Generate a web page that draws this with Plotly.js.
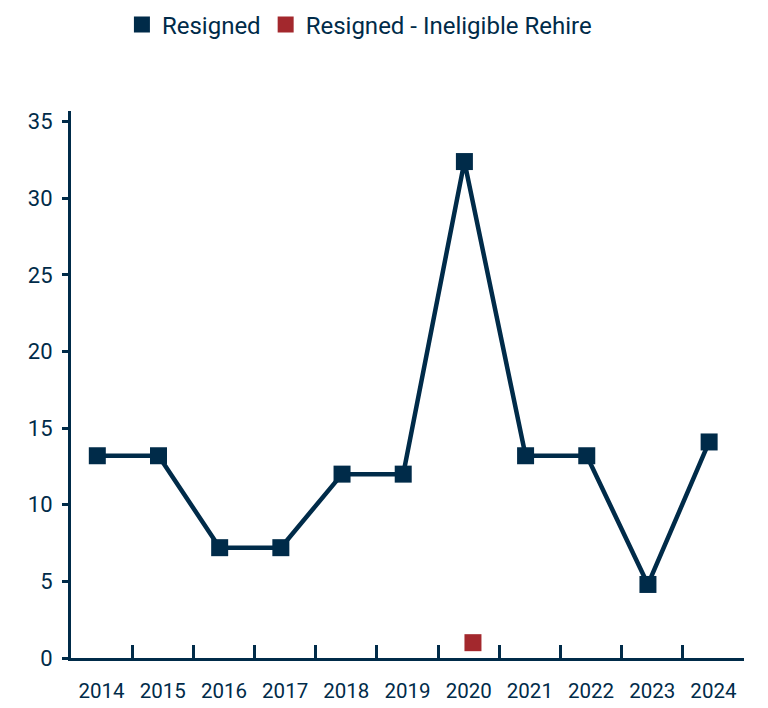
<!DOCTYPE html>
<html>
<head>
<meta charset="utf-8">
<script src="https://cdn.plot.ly/plotly-3.0.1.min.js"></script>
<style>
  html, body { margin: 0; padding: 0; background: #ffffff; }
  #chart { width: 768px; height: 708px; }
</style>
</head>
<body>
<div id="chart"></div>
<script>
// Categories (years)
var years = ["2014", "2015", "2016", "2017", "2018", "2019", "2020", "2021", "2022", "2023", "2024"];
// Series values
var resigned = [13.2, 13.2, 7.2, 7.2, 12.0, 12.0, 32.4, 13.2, 13.2, 4.8, 14.1];
var ineligibleYears = ["2020"];
var ineligible = [1.0];
// Tick labels
var yTicks = [0, 5, 10, 15, 20, 25, 30, 35];

var navy = "#002b49";
var red = "#a3282d";
var fontFamily = "Roboto, 'Noto Sans', sans-serif";

var traces = [
  {
    type: "scatter", mode: "lines", x: years, y: resigned,
    name: "Resigned", showlegend: false, offsetgroup: "a", hoverinfo: "skip",
    line: { color: navy, width: 4.5 }
  },
  {
    type: "scatter", mode: "markers", x: years, y: resigned,
    name: "Resigned", offsetgroup: "a",
    marker: { color: navy, symbol: "square", size: 17 }
  },
  {
    type: "scatter", mode: "markers", x: ineligibleYears, y: ineligible,
    name: "Resigned - Ineligible Rehire", offsetgroup: "b",
    marker: { color: red, symbol: "square", size: 17 }
  }
];

var layout = {
  width: 768, height: 708,
  margin: { l: 71, r: 24, t: 111, b: 50, pad: 0 },
  paper_bgcolor: "#ffffff", plot_bgcolor: "#ffffff",
  font: { family: fontFamily, color: navy, size: 20 },
  scattermode: "group",
  scattergap: 0.72,
  showlegend: true,
  legend: {
    orientation: "h", xref: "container", yref: "container",
    x: 0.468, xanchor: "center", y: 1 - 25 / 708, yanchor: "middle",
    font: { family: fontFamily, size: 24, color: navy },
    itemsizing: "trace", itemwidth: 30, tracegroupgap: 0
  },
  xaxis: {
    type: "category", categoryorder: "array", categoryarray: years,
    showgrid: false, zeroline: false,
    showline: true, linecolor: navy, linewidth: 3,
    ticks: "inside", tickson: "boundaries", ticklen: 13, tickwidth: 3, tickcolor: navy,
    ticklabelstandoff: 12,
    tickfont: { family: fontFamily, size: 20.5, color: navy },
    fixedrange: true
  },
  yaxis: {
    range: [0, 35.7], showgrid: false, zeroline: false,
    showline: true, linecolor: navy, linewidth: 3,
    ticks: "outside", ticklen: 6, tickwidth: 3, tickcolor: navy,
    tickvals: yTicks, ticktext: yTicks.map(String),
    ticklabelstandoff: 5,
    tickfont: { family: fontFamily, size: 22, color: navy },
    fixedrange: true
  }
};

Plotly.newPlot("chart", traces, layout, { displayModeBar: false, staticPlot: true });
</script>
</body>
</html>
